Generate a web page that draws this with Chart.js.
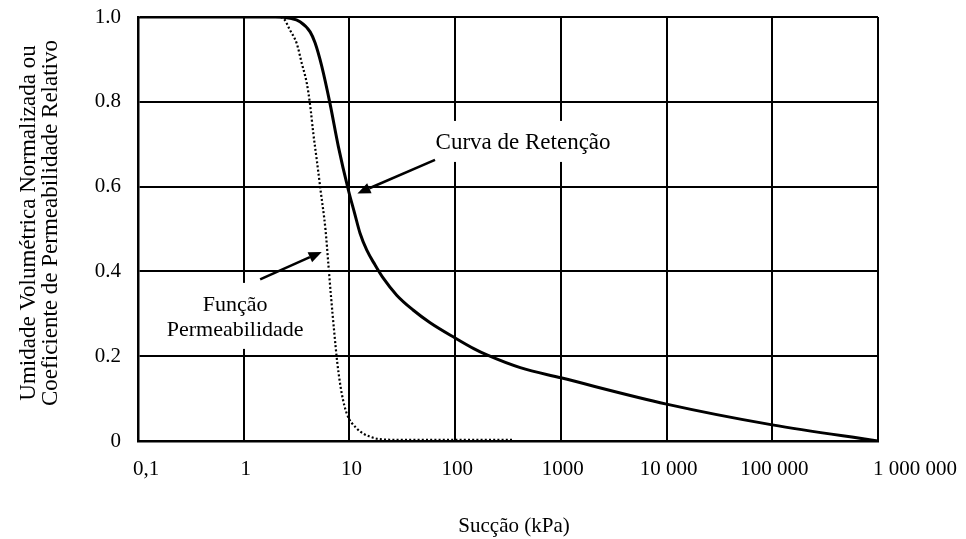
<!DOCTYPE html>
<html>
<head>
<meta charset="utf-8">
<script src="https://cdn.jsdelivr.net/npm/chart.js@4.4.1/dist/chart.umd.min.js"></script>
<style>
  body { margin: 0; background: #fff; }
  canvas { display: block; }
</style>
</head>
<body>
<canvas id="myChart" width="966" height="539"></canvas>
<script>
// Curva de retenção (sucção em kPa x umidade volumétrica normalizada)
const succaoRet = [0.1, 1, 2, 2.75, 3.41, 4.25, 4.73, 5.47, 6.56, 7.85, 9.77, 11.2, 12.6, 14.6, 17.5, 20.9, 28, 40, 58, 100, 150, 200, 413, 1000, 10000, 100000, 1000000];
const retencao  = [1, 1, 1, 0.997, 0.989, 0.965, 0.939, 0.884, 0.795, 0.695, 0.592, 0.537, 0.49, 0.45, 0.415, 0.384, 0.344, 0.309, 0.279, 0.243, 0.218, 0.203, 0.173, 0.149, 0.087, 0.038, 0];

// Função permeabilidade (coeficiente de permeabilidade relativo)
const succaoPerm = [0.1, 1, 2.1, 2.37, 2.74, 3.17, 3.54, 3.95, 4.24, 4.55, 4.91, 5.33, 5.94, 6.31, 6.7, 7.15, 7.69, 8.46, 9.43, 11.7, 15.7, 24, 100, 350];
const permeab    = [1, 1, 1, 0.997, 0.969, 0.938, 0.891, 0.844, 0.794, 0.726, 0.663, 0.592, 0.498, 0.419, 0.34, 0.262, 0.183, 0.112, 0.065, 0.03, 0.01, 0.003, 0.003, 0.003];

const xTicks = [0.1, 1, 10, 100, 1000, 10000, 100000, 1000000];
const xTickLabels = ['0,1', '1', '10', '100', '1000', '10 000', '100 000', '1 000 000'];
const yTicks = [0, 0.2, 0.4, 0.6, 0.8, 1];
const yTickLabels = ['0', '0.2', '0.4', '0.6', '0.8', '1.0'];

const serif = '"Liberation Serif", "Times New Roman", serif';

// textos e setas, em coordenadas do gráfico (sucção, valor)
const notaRet = { texto: ['Curva de Retenção'], x: 439, y: 0.703, tam: 23, seta: [[64.5, 0.663], [11.9, 0.584]] };
const notaPerm = { texto: ['Função', 'Permeabilidade'], x: 0.83, y: 0.321, tam: 22, seta: [[1.43, 0.381], [5.47, 0.446]] };

function caixaTexto(ctx, chart, nota) {
  const cx = chart.scales.x.getPixelForValue(nota.x);
  const cy = chart.scales.y.getPixelForValue(nota.y);
  ctx.font = nota.tam + 'px ' + serif;
  const w = Math.max(...nota.texto.map(t => ctx.measureText(t).width));
  return { cx, cy, w };
}

function seta(ctx, chart, pts) {
  const sx = chart.scales.x, sy = chart.scales.y;
  const x0 = sx.getPixelForValue(pts[0][0]), y0 = sy.getPixelForValue(pts[0][1]);
  const x1 = sx.getPixelForValue(pts[1][0]), y1 = sy.getPixelForValue(pts[1][1]);
  const ang = Math.atan2(y1 - y0, x1 - x0);
  const len = 13, half = 5.5;
  const bx = x1 - len * Math.cos(ang), by = y1 - len * Math.sin(ang);
  ctx.strokeStyle = '#000';
  ctx.fillStyle = '#000';
  ctx.lineWidth = 2.5;
  ctx.beginPath();
  ctx.moveTo(x0, y0);
  ctx.lineTo(bx, by);
  ctx.stroke();
  ctx.beginPath();
  ctx.moveTo(x1, y1);
  ctx.lineTo(bx + half * Math.sin(ang), by - half * Math.cos(ang));
  ctx.lineTo(bx - half * Math.sin(ang), by + half * Math.cos(ang));
  ctx.closePath();
  ctx.fill();
}

const notas = {
  id: 'notas',
  // fundo branco atrás dos textos, por cima da grade
  beforeDatasetsDraw(chart) {
    const ctx = chart.ctx;
    ctx.save();
    ctx.fillStyle = '#fff';
    [notaRet, notaPerm].forEach(n => {
      const b = caixaTexto(ctx, chart, n);
      const top = b.cy - 22;
      const bottom = b.cy + (n.texto.length - 1) * 25 + 19;
      ctx.fillRect(b.cx - b.w / 2 - 5, top, b.w + 10, bottom - top);
    });
    ctx.restore();
  },
  afterDraw(chart) {
    const ctx = chart.ctx;
    const sx = chart.scales.x;
    ctx.save();
    ctx.fillStyle = '#000';

    // rótulos do eixo x
    ctx.font = '21px ' + serif;
    ctx.textBaseline = 'middle';
    xTicks.forEach((v, i) => {
      const px = sx.getPixelForValue(v);
      if (i === 0 || i === xTicks.length - 1) {
        ctx.textAlign = 'left';
        ctx.fillText(xTickLabels[i], px - 5, 469);
      } else {
        ctx.textAlign = 'center';
        ctx.fillText(xTickLabels[i], px + 2, 469);
      }
    });

    // título do eixo x
    ctx.textAlign = 'center';
    ctx.textBaseline = 'alphabetic';
    ctx.fillText('Sucção (kPa)', (chart.chartArea.left + chart.chartArea.right) / 2 + 6, 532);

    // título do eixo y, em duas linhas
    ctx.save();
    ctx.translate(29, 223);
    ctx.rotate(-Math.PI / 2);
    ctx.textBaseline = 'middle';
    ctx.font = '23px ' + serif;
    ctx.fillText('Umidade Volumétrica Normalizada ou', 0, 0);
    ctx.fillText('Coeficiente de Permeabilidade Relativo', 0, 22);
    ctx.restore();

    // anotações
    [notaRet, notaPerm].forEach(n => {
      const b = caixaTexto(ctx, chart, n);
      ctx.textAlign = 'center';
      ctx.textBaseline = 'middle';
      n.texto.forEach((t, k) => {
        ctx.fillText(t, b.cx, b.cy + k * 25);
      });
      seta(ctx, chart, n.seta);
    });
    ctx.restore();
  }
};

const config = {
  type: 'line',
  data: {
    datasets: [{
      label: 'Curva de Retenção',
      data: succaoRet.map((x, i) => ({ x: x, y: retencao[i] })),
      borderColor: '#000',
      borderWidth: 3,
      pointRadius: 0,
      cubicInterpolationMode: 'monotone',
      fill: false
    },
    {
      label: 'Função Permeabilidade',
      data: succaoPerm.map((x, i) => ({ x: x, y: permeab[i] })),
      borderColor: '#000',
      borderWidth: 2.2,
      borderDash: [2, 2.2],
      pointRadius: 0,
      cubicInterpolationMode: 'monotone',
      fill: false
    }]
  },
  options: {
    responsive: false,
    animation: false,
    devicePixelRatio: 1,
    layout: { padding: { top: 17, right: 88, left: 0, bottom: 0 } },
    plugins: {
      legend: { display: false },
      tooltip: { enabled: false }
    },
    scales: {
      x: {
        type: 'logarithmic',
        min: 0.1,
        max: 1000000,
        afterBuildTicks: axis => { axis.ticks = xTicks.map(v => ({ value: v })); },
        afterFit: axis => { axis.height = 98; axis.paddingLeft = 0; axis.paddingRight = 0; },
        ticks: { display: false },
        grid: { color: '#000', lineWidth: 2, drawTicks: false },
        border: { color: '#000', width: 2.5 }
      },
      y: {
        min: 0,
        max: 1,
        afterBuildTicks: axis => { axis.ticks = yTicks.map(v => ({ value: v })); },
        afterFit: axis => { axis.width = 138; axis.paddingTop = 0; axis.paddingBottom = 0; },
        ticks: {
          color: '#000',
          padding: 17,
          font: { family: serif, size: 21 },
          callback: v => yTickLabels[yTicks.indexOf(v)]
        },
        grid: { color: '#000', lineWidth: 2, drawTicks: false },
        border: { color: '#000', width: 2.5 }
      }
    }
  },
  plugins: [notas]
};

const myChart = new Chart(document.getElementById('myChart'), config);
</script>
</body>
</html>
